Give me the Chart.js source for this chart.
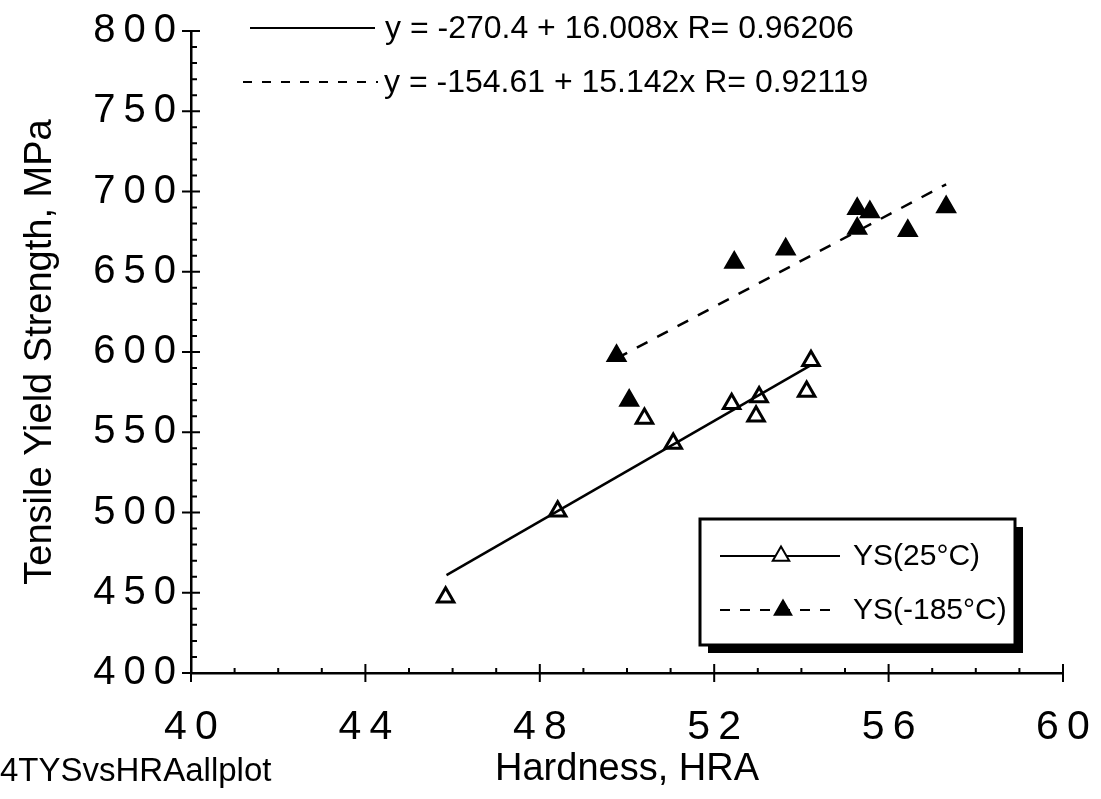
<!DOCTYPE html>
<html>
<head>
<meta charset="utf-8">
<script src="https://cdn.jsdelivr.net/npm/chart.js@4.4.0/dist/chart.umd.min.js"></script>
<style>
  html, body { margin: 0; padding: 0; background: #fff; }
</style>
</head>
<body>
<canvas id="myChart" width="1101" height="799"></canvas>
<script>
var hra_25 = [45.84, 48.41, 50.40, 51.06, 52.40, 52.96, 53.03, 54.12, 54.22];
var ys_25 = [447.2, 500.8, 558.5, 543.0, 567.7, 560.0, 571.9, 575.4, 594.6];
var hra_185 = [49.76, 50.05, 52.46, 53.64, 55.28, 55.57, 55.28, 56.44, 57.32];
var ys_185 = [597.7, 569.8, 655.8, 664.0, 689.3, 687.3, 677.0, 675.5, 690.4];

var fit_25_x = [45.86, 54.2];
var fit_25_y = [461.0, 591.5];
var fit_185_x = [49.76, 57.32];
var fit_185_y = [596.0, 704.5];

var eq_25 = 'y = -270.4 + 16.008x R= 0.96206';
var eq_185 = 'y = -154.61 + 15.142x R= 0.92119';
var legend_labels = ['YS(25°C)', 'YS(-185°C)'];
var file_label = '4TYSvsHRAallplot';

var x_min = 40, x_max = 60, x_step = 4, x_minor = 1;
var y_min = 400, y_max = 800, y_step = 50, y_minor = 10;

var font_family = '"Liberation Sans", Arial, sans-serif';

function pts(xs, ys) {
  var out = [];
  for (let i = 0; i < xs.length; i++) out.push({x: xs[i], y: ys[i]});
  return out;
}

function spaced(v) {
  return String(v).split('').join('\u2009');
}

var axisTicks = {
  id: 'axisTicks',
  afterDraw: function(chart) {
    var ctx = chart.ctx;
    var xs = chart.scales.x, ys = chart.scales.y;
    var bottom = chart.chartArea.bottom, left = chart.chartArea.left;
    ctx.save();
    ctx.strokeStyle = '#000';
    ctx.lineWidth = 2;
    ctx.beginPath();
    for (let v = x_min; v <= x_max; v += x_minor) {
      var px = xs.getPixelForValue(v);
      if ((v - x_min) % x_step === 0) {
        ctx.moveTo(px, bottom + 9); ctx.lineTo(px, bottom - 9);
      } else {
        ctx.moveTo(px, bottom); ctx.lineTo(px, bottom - 5);
      }
    }
    for (let v = y_min; v <= y_max; v += y_minor) {
      var py = ys.getPixelForValue(v);
      if ((v - y_min) % y_step === 0) {
        ctx.moveTo(left - 9, py); ctx.lineTo(left + 9, py);
      } else {
        ctx.moveTo(left, py); ctx.lineTo(left + 6, py);
      }
    }
    ctx.stroke();
    ctx.restore();
  }
};

var notes = {
  id: 'notes',
  afterDraw: function(chart) {
    var ctx = chart.ctx;
    var tri = {pointStyle: 'triangle', radius: 9.5, borderWidth: 3};
    ctx.save();
    ctx.fillStyle = '#000';
    ctx.strokeStyle = '#000';
    ctx.textBaseline = 'middle';
    ctx.textAlign = 'left';

    // fit equations
    ctx.lineWidth = 2;
    ctx.beginPath(); ctx.moveTo(250, 28); ctx.lineTo(375, 28); ctx.stroke();
    ctx.setLineDash([9, 10]);
    ctx.beginPath(); ctx.moveTo(243, 82); ctx.lineTo(378, 82); ctx.stroke();
    ctx.setLineDash([]);
    ctx.font = '32px ' + font_family;
    ctx.fillText(eq_25, 385, 29);
    ctx.fillText(eq_185, 384, 83);

    // legend box
    ctx.fillRect(708, 527, 315, 126);
    ctx.fillStyle = '#fff';
    ctx.fillRect(700, 519, 315, 126);
    ctx.lineWidth = 3;
    ctx.strokeRect(700, 519, 315, 126);
    ctx.lineWidth = 2;
    ctx.beginPath(); ctx.moveTo(720, 556); ctx.lineTo(840, 556); ctx.stroke();
    ctx.setLineDash([10, 10]);
    ctx.beginPath(); ctx.moveTo(720, 610); ctx.lineTo(840, 610); ctx.stroke();
    ctx.setLineDash([]);
    ctx.fillStyle = '#fff';
    Chart.helpers.drawPoint(ctx, tri, 781, 556);
    ctx.fillStyle = '#000';
    Chart.helpers.drawPoint(ctx, tri, 783, 610);
    ctx.font = '30px ' + font_family;
    ctx.fillText(legend_labels[0], 853, 557);
    ctx.fillText(legend_labels[1], 853, 611);

    ctx.font = '33px ' + font_family;
    ctx.fillText(file_label, 0, 772);
    ctx.restore();
  }
};

var config = {
  type: 'scatter',
  data: {
    datasets: [
      {
        label: 'fit25',
        data: pts(fit_25_x, fit_25_y),
        showLine: true,
        borderColor: '#000',
        borderWidth: 2.5,
        pointRadius: 0
      },
      {
        label: 'fit185',
        data: pts(fit_185_x, fit_185_y),
        showLine: true,
        borderColor: '#000',
        borderWidth: 2.5,
        borderDash: [12, 11],
        pointRadius: 0
      },
      {
        label: legend_labels[0],
        data: pts(hra_25, ys_25),
        pointStyle: 'triangle',
        pointRadius: 9.5,
        pointBorderWidth: 3,
        borderColor: '#000',
        backgroundColor: '#fff'
      },
      {
        label: legend_labels[1],
        data: pts(hra_185, ys_185),
        pointStyle: 'triangle',
        pointRadius: 9.5,
        pointBorderWidth: 3,
        borderColor: '#000',
        backgroundColor: '#000'
      }
    ]
  },
  options: {
    responsive: false,
    animation: false,
    layout: { padding: { top: 26, right: 38, left: 0, bottom: 0 } },
    plugins: { legend: { display: false }, tooltip: { enabled: false } },
    scales: {
      x: {
        type: 'linear',
        min: x_min, max: x_max,
        grid: { display: false },
        border: { display: true, color: '#000', width: 2.5 },
        ticks: {
          stepSize: x_step,
          color: '#000',
          padding: 22,
          maxRotation: 0,
          font: { family: font_family, size: 41 },
          callback: function(v) { return spaced(v); }
        },
        title: {
          display: true,
          text: 'Hardness, HRA',
          color: '#000',
          font: { family: font_family, size: 38, lineHeight: 1 },
          padding: { top: 0, bottom: 10 }
        },
        afterFit: function(scale) {
          scale.height = 799 - 673;
          scale.paddingLeft = 0;
          scale.paddingRight = 0;
        }
      },
      y: {
        type: 'linear',
        min: y_min, max: y_max,
        grid: { display: false },
        border: { display: true, color: '#000', width: 2.5 },
        ticks: {
          stepSize: y_step,
          color: '#000',
          padding: 7,
          font: { family: font_family, size: 40 },
          callback: function(v) { return spaced(v); }
        },
        title: {
          display: true,
          text: 'Tensile Yield Strength, MPa',
          color: '#000',
          font: { family: font_family, size: 38, lineHeight: 1 },
          padding: { top: 22, bottom: 0 }
        },
        afterFit: function(scale) { scale.width = 191; }
      }
    }
  },
  plugins: [axisTicks, notes]
};

var myChart = new Chart(document.getElementById('myChart'), config);
</script>
</body>
</html>
